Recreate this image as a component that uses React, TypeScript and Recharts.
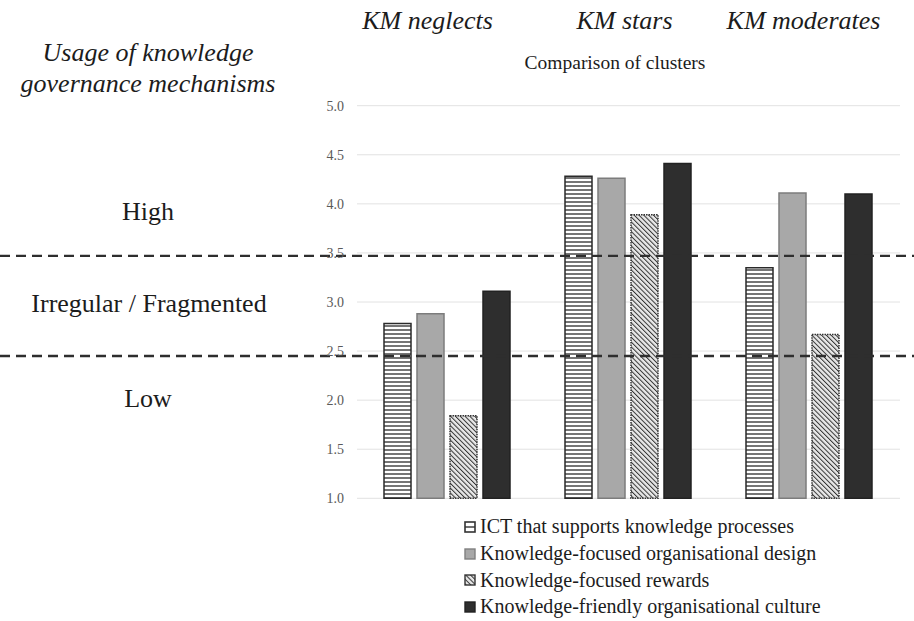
import React from "react";
import {
  BarChart, Bar, XAxis, YAxis, CartesianGrid, ReferenceLine, Legend,
} from "recharts";

const clusters = ["KM neglects", "KM stars", "KM moderates"];
const ictValues = [2.78, 4.28, 3.35];
const designValues = [2.88, 4.26, 4.11];
const rewardsValues = [1.84, 3.89, 2.67];
const cultureValues = [3.11, 4.41, 4.1];
const yTicks = [1, 1.5, 2, 2.5, 3, 3.5, 4, 4.5, 5];
const levelBounds = [3.47, 2.45];

const seriesNames = {
  ict: "ICT that supports knowledge processes",
  design: "Knowledge-focused organisational design",
  rewards: "Knowledge-focused rewards",
  culture: "Knowledge-friendly organisational culture",
};

const data = clusters.map((c, i) => ({
  cluster: c,
  ict: ictValues[i],
  design: designValues[i],
  rewards: rewardsValues[i],
  culture: cultureValues[i],
}));

const serif = "'Liberation Serif', 'Times New Roman', serif";
const ink = "#1c1c1c";

// full-width dashed divider, y comes from the axis scale
const DashedDivider = (props: any) => (
  <line x1={0} x2={914} y1={props.y1} y2={props.y2}
    stroke="#2e2e2e" strokeWidth={2.4} strokeDasharray="10 6" />
);

// the cluster names in the original sit a little left of the group centres
const tickShift = [-20, -4, -6];

const ClusterTick = (props: any) => (
  <text x={props.x + (tickShift[props.index] ?? 0)} y={29} textAnchor="middle"
    fontFamily={serif} fontStyle="italic" fontSize={26} fill={ink}>
    {props.payload.value}
  </text>
);

const LegendIcon = ({ kind }: { kind: string }) => (
  <svg width={12} height={12} style={{ marginRight: 4, flex: "none" }}>
    {kind === "ict" && (
      <>
        <rect x={1} y={1} width={10} height={10} fill="#fff" stroke="#333" strokeWidth={1.6} />
        <line x1={1} x2={11} y1={6} y2={6} stroke="#333" strokeWidth={1.4} />
      </>
    )}
    {kind === "design" && (
      <rect x={1} y={1} width={10} height={10} fill="#a8a8a8" stroke="#808080" strokeWidth={1.4} />
    )}
    {kind === "rewards" && (
      <rect x={1} y={1} width={10} height={10} fill="url(#diagHatch)" stroke="#333" strokeWidth={1.4} />
    )}
    {kind === "culture" && (
      <rect x={1} y={1} width={10} height={10} fill="#2e2e2e" stroke="#222" strokeWidth={1.4} />
    )}
  </svg>
);

const renderLegend = (props: any) => (
  <div style={{ fontFamily: serif, fontSize: 20, color: ink }}>
    {(props.payload || []).map((p: any) => (
      <div key={p.dataKey} style={{ display: "flex", alignItems: "center", height: 26.7 }}>
        <LegendIcon kind={p.dataKey} />
        <span>{p.value}</span>
      </div>
    ))}
  </div>
);

export default function App() {
  return (
    <div style={{ position: "absolute", left: 0, top: 0, width: 914, height: 621, background: "#fff" }}>
      <svg width={0} height={0} style={{ position: "absolute" }}>
        <defs>
          <pattern id="hStripe" patternUnits="userSpaceOnUse" width={4} height={4}>
            <rect width={4} height={4} fill="#fff" />
            <line x1={0} x2={4} y1={2} y2={2} stroke="#2a2a2a" strokeWidth={1.3} />
          </pattern>
          <pattern id="diagHatch" patternUnits="userSpaceOnUse" width={3.4} height={3.4}
            patternTransform="rotate(-45)">
            <rect width={3.4} height={3.4} fill="#e8e8e8" />
            <line x1={0} x2={0} y1={0} y2={3.4} stroke="#333" strokeWidth={2} />
          </pattern>
        </defs>
      </svg>

      <BarChart width={914} height={621} data={data}
        margin={{ top: 75.7, right: 14, bottom: 122.7, left: 307 }}
        barCategoryGap={27} barGap={6}>
        <CartesianGrid vertical={false} stroke="#e2e2e2" />
        <XAxis dataKey="cluster" orientation="top" height={30}
          axisLine={false} tickLine={false} tick={<ClusterTick />} interval={0} />
        <YAxis domain={[1, 5]} ticks={yTicks} width={50} axisLine={false} tickLine={false}
          tickMargin={7} tickFormatter={(v: number) => v.toFixed(1)}
          tick={{ fontFamily: serif, fontSize: 14, fill: "#595959" }} />
        <Legend layout="vertical" align="center" verticalAlign="middle"
          wrapperStyle={{ left: 464, top: 513.5, width: "auto" }} content={renderLegend} />
        <Bar dataKey="ict" name={seriesNames.ict} fill="url(#hStripe)" stroke="#2a2a2a"
          strokeWidth={1.5} isAnimationActive={false} />
        <Bar dataKey="design" name={seriesNames.design} fill="#a8a8a8" stroke="#7c7c7c"
          strokeWidth={1.5} isAnimationActive={false} />
        <Bar dataKey="rewards" name={seriesNames.rewards} fill="url(#diagHatch)" stroke="#333"
          strokeWidth={1.5} strokeDasharray="1.5 1" isAnimationActive={false} />
        <Bar dataKey="culture" name={seriesNames.culture} fill="#2e2e2e" stroke="#222"
          strokeWidth={1.5} isAnimationActive={false} />
        {levelBounds.map((v) => (
          <ReferenceLine key={v} y={v} shape={DashedDivider} />
        ))}
      </BarChart>

      <svg width={914} height={621}
        style={{ position: "absolute", left: 0, top: 0, pointerEvents: "none" }}>
        <g fontFamily={serif} fill={ink} textAnchor="middle">
          <text x={615} y={69} fontSize={19.5}>Comparison of clusters</text>
          <text x={148} y={61} fontSize={26} fontStyle="italic">Usage of knowledge</text>
          <text x={148} y={92} fontSize={26} fontStyle="italic">governance mechanisms</text>
          <text x={148} y={220} fontSize={26}>High</text>
          <text x={149} y={312} fontSize={26}>Irregular / Fragmented</text>
          <text x={148} y={407} fontSize={26}>Low</text>
        </g>
      </svg>
    </div>
  );
}
